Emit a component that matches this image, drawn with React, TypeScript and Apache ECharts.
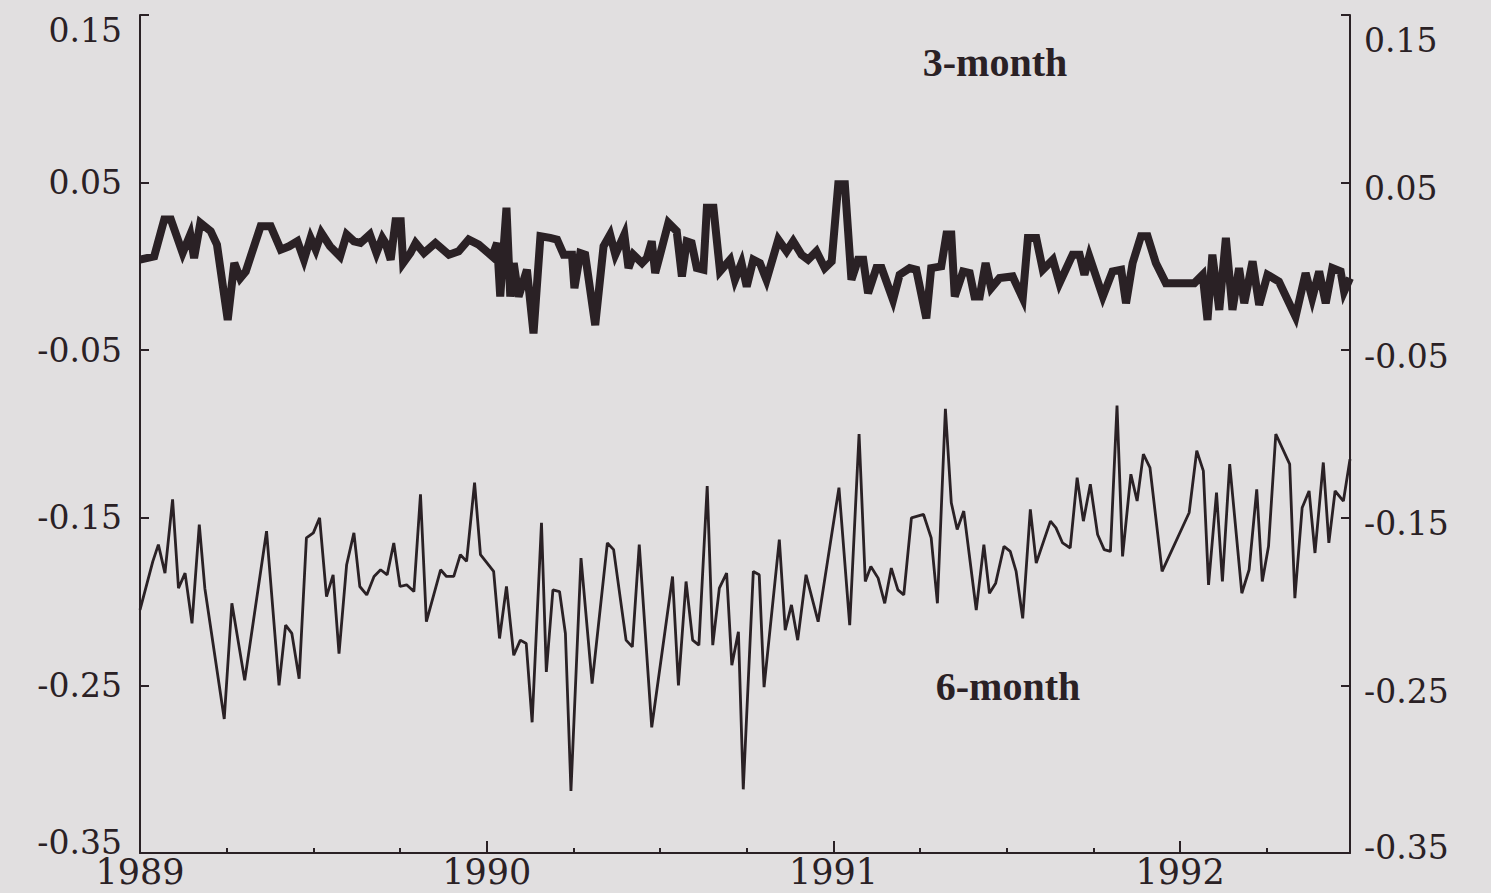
import React, { useEffect, useRef } from "react";
import * as echarts from "echarts";

// 6-month series: decimal years and values
const sixDates = [
  1989.0, 1989.037, 1989.053, 1989.072, 1989.094, 1989.111, 1989.13, 1989.15, 1989.171, 1989.187,
  1989.243, 1989.265, 1989.302, 1989.365, 1989.401, 1989.42, 1989.438, 1989.459, 1989.48, 1989.5,
  1989.518, 1989.538, 1989.557, 1989.574, 1989.596, 1989.617, 1989.634, 1989.654, 1989.675, 1989.694,
  1989.713, 1989.732, 1989.75, 1989.769, 1989.79, 1989.809, 1989.826, 1989.867, 1989.884, 1989.905,
  1989.924, 1989.942, 1989.965, 1989.982, 1990.02, 1990.037, 1990.057, 1990.078, 1990.097, 1990.114,
  1990.131, 1990.158, 1990.172, 1990.191, 1990.21, 1990.227, 1990.243, 1990.272, 1990.304, 1990.348,
  1990.366, 1990.402, 1990.42, 1990.44, 1990.476, 1990.536, 1990.553, 1990.575, 1990.594, 1990.612,
  1990.636, 1990.652, 1990.671, 1990.692, 1990.707, 1990.726, 1990.74, 1990.769, 1990.786, 1990.8,
  1990.844, 1990.861, 1990.879, 1990.897, 1990.921, 1990.956, 1991.016, 1991.047, 1991.074, 1991.092,
  1991.108, 1991.129, 1991.148, 1991.167, 1991.186, 1991.203, 1991.225, 1991.26, 1991.282, 1991.3,
  1991.323, 1991.34, 1991.357, 1991.376, 1991.412, 1991.434, 1991.45, 1991.468, 1991.492, 1991.51,
  1991.527, 1991.546, 1991.568, 1991.585, 1991.626, 1991.642, 1991.661, 1991.683, 1991.703, 1991.721,
  1991.741, 1991.762, 1991.781, 1991.799, 1991.818, 1991.834, 1991.858, 1991.876, 1991.894, 1991.913,
  1991.948, 1992.026, 1992.048, 1992.067, 1992.082, 1992.105, 1992.122, 1992.143, 1992.178, 1992.199,
  1992.221, 1992.237, 1992.255, 1992.276, 1992.316, 1992.331, 1992.352, 1992.372, 1992.389, 1992.413,
  1992.429, 1992.447, 1992.471, 1992.49,
];
const sixMonth = [
  -0.205, -0.176, -0.166, -0.183, -0.139, -0.192, -0.183, -0.213, -0.154, -0.192,
  -0.27, -0.201, -0.247, -0.158, -0.25, -0.214, -0.219, -0.246, -0.162, -0.159,
  -0.15, -0.197, -0.184, -0.231, -0.178, -0.159, -0.191, -0.196, -0.185, -0.181,
  -0.184, -0.165, -0.191, -0.19, -0.194, -0.136, -0.212, -0.181, -0.185, -0.185,
  -0.172, -0.176, -0.129, -0.172, -0.182, -0.222, -0.191, -0.232, -0.223, -0.225,
  -0.272, -0.153, -0.242, -0.193, -0.194, -0.219, -0.313, -0.174, -0.249, -0.165,
  -0.169, -0.223, -0.227, -0.166, -0.275, -0.185, -0.25, -0.188, -0.223, -0.226,
  -0.131, -0.226, -0.192, -0.183, -0.238, -0.218, -0.312, -0.182, -0.184, -0.251,
  -0.163, -0.217, -0.202, -0.223, -0.184, -0.212, -0.132, -0.214, -0.1, -0.188,
  -0.179, -0.186, -0.201, -0.18, -0.193, -0.196, -0.15, -0.148, -0.162, -0.201,
  -0.085, -0.141, -0.157, -0.146, -0.205, -0.166, -0.195, -0.189, -0.167, -0.17,
  -0.182, -0.21, -0.145, -0.177, -0.152, -0.156, -0.165, -0.168, -0.126, -0.152,
  -0.13, -0.16, -0.169, -0.17, -0.083, -0.173, -0.124, -0.14, -0.112, -0.12,
  -0.182, -0.147, -0.11, -0.122, -0.19, -0.135, -0.188, -0.118, -0.195, -0.181,
  -0.133, -0.188, -0.167, -0.1, -0.118, -0.198, -0.144, -0.134, -0.171, -0.117,
  -0.165, -0.134, -0.14, -0.115,
];

// 3-month series: decimal years and values
const threeDates = [
  1989.0, 1989.041, 1989.07, 1989.089, 1989.123, 1989.145, 1989.156, 1989.174, 1989.204, 1989.222,
  1989.253, 1989.272, 1989.289, 1989.305, 1989.348, 1989.377, 1989.406, 1989.43, 1989.454, 1989.473,
  1989.492, 1989.507, 1989.523, 1989.548, 1989.577, 1989.596, 1989.617, 1989.636, 1989.663, 1989.682,
  1989.699, 1989.708, 1989.723, 1989.737, 1989.752, 1989.759, 1989.78, 1989.795, 1989.819, 1989.852,
  1989.891, 1989.919, 1989.948, 1989.977, 1990.016, 1990.03, 1990.039, 1990.057, 1990.068, 1990.078,
  1990.092, 1990.116, 1990.135, 1990.155, 1990.183, 1990.203, 1990.222, 1990.246, 1990.253, 1990.27,
  1990.284, 1990.313, 1990.337, 1990.356, 1990.371, 1990.397, 1990.409, 1990.423, 1990.448, 1990.462,
  1990.476, 1990.486, 1990.5, 1990.524, 1990.548, 1990.563, 1990.577, 1990.591, 1990.606, 1990.625,
  1990.635, 1990.654, 1990.673, 1990.702, 1990.716, 1990.735, 1990.75, 1990.769, 1990.788, 1990.807,
  1990.841, 1990.865, 1990.884, 1990.908, 1990.927, 1990.951, 1990.975, 1990.995, 1991.014, 1991.033,
  1991.052, 1991.071, 1991.086, 1991.1, 1991.124, 1991.139, 1991.172, 1991.191, 1991.22, 1991.239,
  1991.268, 1991.282, 1991.311, 1991.326, 1991.34, 1991.35, 1991.374, 1991.393, 1991.407, 1991.422,
  1991.439, 1991.455, 1991.479, 1991.517, 1991.546, 1991.561, 1991.585, 1991.604, 1991.633, 1991.652,
  1991.69, 1991.71, 1991.724, 1991.738, 1991.777, 1991.805, 1991.83, 1991.844, 1991.863, 1991.887,
  1991.906, 1991.93, 1991.959, 1992.041, 1992.065, 1992.079, 1992.093, 1992.113, 1992.132, 1992.151,
  1992.17, 1992.185, 1992.209, 1992.228, 1992.252, 1992.285, 1992.333, 1992.362, 1992.381, 1992.401,
  1992.42, 1992.439, 1992.463, 1992.473, 1992.49,
];
const threeMonth = [
  0.004, 0.006, 0.028, 0.028, 0.008, 0.019, 0.005, 0.026, 0.021, 0.013,
  -0.032, 0.002, -0.007, -0.003, 0.024, 0.024, 0.01, 0.012, 0.015, 0.004,
  0.017, 0.01, 0.02, 0.012, 0.006, 0.019, 0.015, 0.014, 0.019, 0.008,
  0.017, 0.014, 0.004, 0.027, 0.027, 0.002, 0.008, 0.014, 0.008, 0.014,
  0.007, 0.009, 0.016, 0.013, 0.006, 0.014, -0.018, 0.035, -0.018, 0.002,
  -0.018, -0.002, -0.04, 0.018, 0.017, 0.016, 0.007, 0.007, -0.013, 0.008,
  0.007, -0.035, 0.012, 0.019, 0.007, 0.019, -0.001, 0.007, 0.002, 0.005,
  0.015, -0.004, 0.007, 0.026, 0.021, -0.006, 0.015, 0.014, -0.001, -0.002,
  0.035, 0.035, -0.003, 0.004, -0.008, 0.002, -0.012, 0.004, 0.002, -0.008,
  0.016, 0.009, 0.015, 0.007, 0.004, 0.009, -0.001, 0.003, 0.049, 0.049,
  -0.008, 0.004, 0.004, -0.016, -0.001, -0.001, -0.02, -0.005, -0.001, -0.002,
  -0.031, -0.001, 0.0, 0.019, 0.019, -0.018, -0.003, -0.004, -0.018, -0.018,
  0.002, -0.013, -0.007, -0.006, -0.019, 0.017, 0.017, -0.002, 0.004, -0.01,
  0.007, 0.007, -0.005, 0.006, -0.018, -0.003, -0.002, -0.022, 0.002, 0.018,
  0.018, 0.002, -0.01, -0.01, -0.005, -0.032, 0.007, -0.026, 0.017, -0.026,
  -0.001, -0.022, 0.003, -0.023, -0.005, -0.009, -0.03, -0.004, -0.019, -0.003,
  -0.022, -0.001, -0.003, -0.015, -0.007,
];

const yTicks = ["0.15", "0.05", "-0.05", "-0.15", "-0.25", "-0.35"];
const xYears = [1989, 1990, 1991, 1992];
const seriesNames = ["3-month", "6-month"];

const BG = "#e1dfe0";
const INK = "#2a2125";
const FONT = "'DejaVu Serif', serif";

export default function App() {
  const ref = useRef<HTMLDivElement>(null);

  useEffect(() => {
    document.body.style.margin = "0";
    document.body.style.background = BG;
    const chart = echarts.init(ref.current!, null, { renderer: "svg" });

    const threeData = threeDates.map((d, i) => [d, threeMonth[i]]);
    const sixData = sixDates.map((d, i) => [d, sixMonth[i]]);

    // inner ticks get axis labels; the end ones (0.15, -0.35) are placed as graphic texts
    const inner = yTicks.slice(1, -1);
    const norm = (v: number) => {
      const s = v.toFixed(2);
      return s === "-0.00" ? "0.00" : s;
    };
    const fmtLeft = (v: number) => (inner.includes(norm(v)) ? norm(v) : "");
    const fmtRight = (v: number) => (inner.includes(norm(v)) ? "\n" + norm(v) : "");

    const yAxisBase = {
      type: "value",
      min: -0.35,
      max: 0.15,
      interval: 0.1,
      splitLine: { show: false },
      axisLine: { show: true, lineStyle: { color: INK, width: 2 } },
      axisTick: { show: true, inside: true, length: 9, lineStyle: { color: INK, width: 2 } },
    };

    const endLabel = (text: string, x: number, y: number, align: string) => ({
      type: "text",
      x,
      y,
      style: { text, font: `33px ${FONT}`, fill: INK, align, verticalAlign: "middle" },
    });

    chart.setOption({
      animation: false,
      backgroundColor: BG,
      grid: { left: 140, right: 141, top: 15, bottom: 40, containLabel: false, outerBoundsMode: "none" },
      xAxis: {
        type: "value",
        min: 1989,
        max: 1992.49,
        interval: 1,
        splitLine: { show: false },
        axisLine: { show: true, onZero: false, lineStyle: { color: INK, width: 2 } },
        axisTick: { show: true, inside: true, length: 12, lineStyle: { color: INK, width: 2 } },
        minorTick: { show: true, splitNumber: 4, length: 5, lineStyle: { color: INK, width: 2 } },
        axisLabel: {
          color: INK,
          fontFamily: FONT,
          fontSize: 35,
          lineHeight: 30,
          margin: 4,
          showMaxLabel: false,
          formatter: (v: number) =>
            xYears.includes(Math.round(v)) && Math.abs(v - Math.round(v)) < 1e-6 ? String(Math.round(v)) : "",
        },
      },
      yAxis: [
        {
          ...yAxisBase,
          position: "left",
          axisLabel: { color: INK, fontFamily: FONT, fontSize: 33, margin: 18, formatter: fmtLeft },
        },
        {
          ...yAxisBase,
          position: "right",
          axisLabel: {
            color: INK,
            fontFamily: FONT,
            fontSize: 33,
            lineHeight: 12,
            margin: 14,
            formatter: fmtRight,
          },
        },
      ],
      series: [
        {
          name: seriesNames[0],
          type: "line",
          data: threeData,
          showSymbol: false,
          symbol: "none",
          lineStyle: { color: INK, width: 8, join: "miter" },
          z: 3,
        },
        {
          name: seriesNames[1],
          type: "line",
          data: sixData,
          showSymbol: false,
          symbol: "none",
          lineStyle: { color: INK, width: 2.8 },
          z: 3,
        },
      ],
      graphic: [
        endLabel(yTicks[0], 122, 30, "right"),
        endLabel(yTicks[5], 122, 842, "right"),
        endLabel(yTicks[0], 1364, 40, "left"),
        endLabel(yTicks[5], 1364, 847, "left"),
        {
          type: "text",
          x: 995,
          y: 62,
          style: {
            text: seriesNames[0],
            font: `bold 40px 'Liberation Serif', serif`,
            fill: INK,
            align: "center",
            verticalAlign: "middle",
          },
        },
        {
          type: "text",
          x: 1008,
          y: 686,
          style: {
            text: seriesNames[1],
            font: `bold 40px 'Liberation Serif', serif`,
            fill: INK,
            align: "center",
            verticalAlign: "middle",
          },
        },
      ],
    });

    return () => chart.dispose();
  }, []);

  return (
    <div
      ref={ref}
      style={{ position: "absolute", left: 0, top: 0, width: 1491, height: 893, background: BG }}
    />
  );
}
